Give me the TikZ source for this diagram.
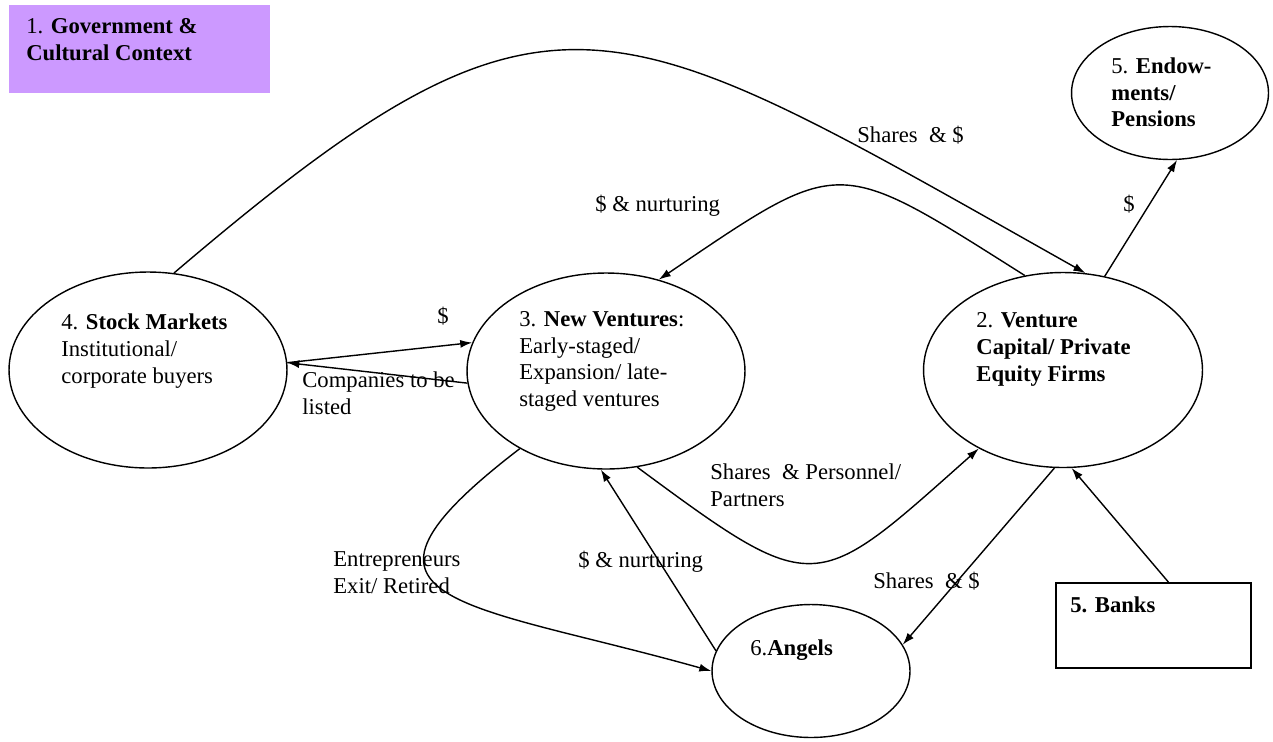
\documentclass[tikz,border=0pt]{standalone}
\usepackage{fontspec}
\setmainfont{Liberation Serif}
\usetikzlibrary{shapes.geometric,arrows.meta}
\definecolor{govpurple}{RGB}{204,153,255}
\begin{document}
\begin{tikzpicture}[x=0.02cm,y=-0.02cm,
    every node/.style={font=\fontsize{12.9}{15.1}\selectfont}]
    % Define styles for actors and flows
    \tikzstyle{actor}=[ellipse, draw, line width=0.8pt, inner sep=0pt, minimum width=5.56cm, minimum height=3.92cm]
    \tikzstyle{small actor}=[actor, minimum width=3.96cm, minimum height=2.66cm]
    \tikzstyle{txt}=[anchor=base west, align=left, inner sep=0pt]
    \tikzstyle{flow}=[-{Latex[length=2.4mm,width=1.6mm]}, line width=0.8pt]

    \useasboundingbox (0,0) rectangle (1273,741);

    % 1. Government & Cultural Context
    \node[rectangle, fill=govpurple, inner sep=0pt, minimum width=5.22cm, minimum height=1.76cm] (gov) at (139.5,49) {};
    \node[txt] (govtext) at ([xshift=-2.27cm,yshift=-0.23cm]gov.center) {1. \textbf{Government \&}\\\textbf{Cultural Context}};

    % 5. Endowments/ Pensions
    \node[actor, minimum width=3.94cm, minimum height=2.66cm] (endow) at (1170,93) {};
    \node[txt] (endowtext) at ([xshift=-1.18cm,yshift=-0.68cm]endow.center) {5. \textbf{Endow-}\\\textbf{ments/}\\\textbf{Pensions}};

    % 4. Stock Markets
    \node[actor] (stock) at (148,370) {};
    \node[txt] (stocktext) at ([xshift=-1.74cm,yshift=-0.26cm]stock.center) {4. \textbf{Stock Markets}\\Institutional/\\corporate buyers};

    % 3. New Ventures
    \node[actor] (nv) at (606,371) {};
    \node[txt] (nvtext) at ([xshift=-1.74cm,yshift=-0.71cm]nv.center) {3. \textbf{New Ventures}:\\Early-staged/\\Expansion/ late-\\staged ventures};

    % 2. Venture Capital/ Private Equity Firms
    \node[actor, minimum width=5.58cm, minimum height=3.9cm] (vc) at (1063,370) {};
    \node[txt] (vctext) at ([xshift=-1.74cm,yshift=-0.22cm]vc.center) {2. \textbf{Venture}\\\textbf{Capital/ Private}\\\textbf{Equity Firms}};

    % 6. Angels
    \node[small actor] (angels) at (811,671) {};
    \node[txt] (angelstext) at ([xshift=-1.22cm,yshift=0.32cm]angels.center) {6.\textbf{Angels}};

    % 5. Banks
    \node[rectangle, draw, line width=1pt, inner sep=0pt, minimum width=3.9cm, minimum height=1.7cm] (banks) at (1153.5,625.5) {};
    \node[txt] (bankstext) at ([xshift=-1.67cm,yshift=0.27cm]banks.center) {\textbf{5. Banks}};

    % Flows
    \draw[flow] (stock.75) .. controls (553,-50) and (605,3) .. (vc.77);
    \node[txt] (sharestop) at (857,142) {Shares~ \& \$};

    \draw[flow] (vc.112) .. controls (834,155) and (843,155) .. (nv.60);
    \node[txt] (nurturetop) at (595,211) {\$ \& nurturing};

    \draw[flow, {Latex[length=2.4mm,width=1.6mm]}-] (endow.276) -- (vc.66);
    \node[txt] (endowdollar) at (1123,211) {\$};

    \draw[flow] (stock.3) -- (nv.168);
    \node[txt] (stockdollar) at (437,323) {\$};
    \draw[flow] (nv.185) -- (stock.3);
    \node[txt] (listed) at (302,414.5) {Companies to be\\listed};

    \draw[flow] (nv.288) .. controls (817,600) and (814,595) .. (vc.223);
    \node[txt] (personnel) at (710,506.5) {Shares~ \& Personnel/\\Partners};

    \draw[flow] (nv.222) .. controls (317,604) and (462,601) .. (angels.180);
    \node[txt] (exit) at (333,593.5) {Entrepreneurs\\Exit/ Retired};

    \draw[flow] (angels.168) -- (nv.267);
    \node[txt] (nurturelow) at (578,567) {\$ \& nurturing};

    \draw[flow] (vc.265) -- (angels.16);
    \node[txt] (shareslow) at (873,588) {Shares~ \& \$};

    \draw[flow] (banks.71) -- (vc.275);
\end{tikzpicture}
\end{document}
